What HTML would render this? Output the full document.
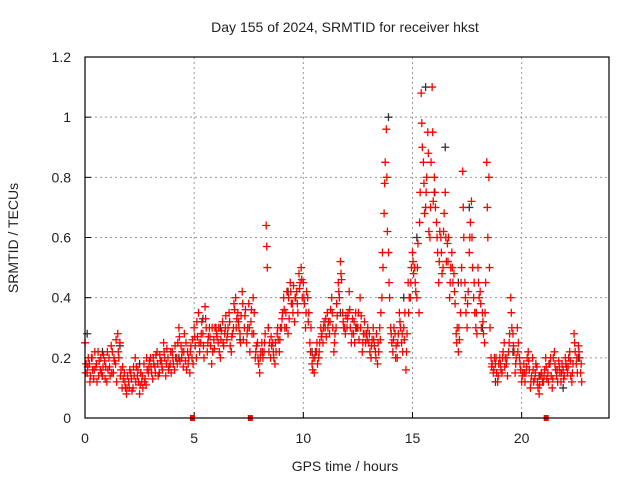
<!DOCTYPE html>
<html><head><meta charset="utf-8"><style>
body{margin:0;background:#fff;}
svg text{font-family:"Liberation Sans",sans-serif;font-size:14px;fill:#222;}
</style></head><body>
<svg id="chart" width="640" height="480" xmlns="http://www.w3.org/2000/svg">
<rect width="640" height="480" fill="#fff"/>
<text x="345" y="32" text-anchor="middle">Day 155 of 2024, SRMTID for receiver hkst</text>
<text x="345" y="471" text-anchor="middle">GPS time / hours</text>
<text transform="translate(18,238) rotate(-90)" text-anchor="middle">SRMTID / TECUs</text>
<g id="grid"></g>
<g id="ticks"></g>
<g id="blk"></g>
<g id="red"></g>
<rect x="85" y="57" width="524" height="361" fill="none" stroke="#000" stroke-width="1.2"/>
</svg>
<script>
const xTicks=[0,5,10,15,20];
const yTicks=[0,0.2,0.4,0.6,0.8,1,1.2];
const yTickLabels=["0","0.2","0.4","0.6","0.8","1","1.2"];
const redA=[0.25,0.15,0.18,0.2,0.13,0.17,0.22,0.16,0.14,0.19,
0.12,0.2,0.24,0.15,0.18,0.28,0.25,0.1,0.15,0.08,
0.12,0.15,0.1,0.2,0.14,0.08,0.12,0.18,0.11,0.15,
0.2,0.13,0.17,0.22,0.15,0.19,0.25,0.14,0.2,0.18,
0.22,0.16,0.2,0.3,0.24,0.17,0.19,0.22,0.15,0.2,
0.3,0.2,0.35,0.25,0.28,0.37,0.22,0.3,0.18,0.26,
0.3,0.25,0.2,0.32,0.28,0.26,0.35,0.22,0.3,0.4,
0.35,0.28,0.42,0.3,0.25,0.38,0.32,0.4,0.2,0.25,
0.15,0.25,0.22,0.64,0.3,0.2,0.25,0.18,0.28,0.22,
0.3,0.4,0.35,0.28,0.45,0.38,0.32,0.42,0.48,0.5,
0.45,0.3,0.4,0.25,0.18,0.15,0.22,0.2,0.3,0.25,
0.3,0.35,0.28,0.4,0.22,0.3,0.45,0.52,0.35,0.3,
0.3,0.42,0.25,0.28,0.35,0.3,0.4,0.22,0.32,0.28,
0.25,0.2,0.3,0.22,0.18,0.3,0.4,0.68,0.96,0.55,
0.3,0.22,0.28,0.2,0.35,0.25,0.3,0.16,0.45,0.4,
0.55,0.5,0.4,0.35,1.08,0.85,0.7,0.95,0.6,1.1,
0.8,0.65,0.45,0.6,0.5,0.75,0.58,0.4,0.55,0.48,
0.28,0.22,0.35,0.82,0.45,0.3,0.55,0.72,0.4,0.3,
0.5,0.42,0.35,0.25,0.85,0.8,0.2,0.15,0.18,0.12,
0.2,0.15,0.25,0.18,0.22,0.4,0.28,0.15,0.3,0.2,
0.12,0.18,0.15,0.22,0.1,0.2,0.13,0.17,0.08,0.15,
0.12,0.2,0.15,0.18,0.1,0.22,0.14,0.19,0.12,0.16,
0.2,0.15,0.22,0.12,0.28,0.18,0.24,0.15];
const redB=[0.18,0.2,0.14,0.16,0.22,0.12,0.19,0.15,0.21,0.17,
0.16,0.14,0.22,0.19,0.12,0.2,0.16,0.13,0.1,0.14,
0.16,0.09,0.14,0.17,0.12,0.15,0.1,0.13,0.16,0.19,
0.15,0.18,0.21,0.14,0.19,0.16,0.2,0.23,0.17,0.15,
0.18,0.2,0.25,0.19,0.22,0.28,0.16,0.2,0.24,0.18,
0.24,0.27,0.22,0.32,0.2,0.3,0.27,0.24,0.22,0.3,
0.27,0.22,0.29,0.24,0.34,0.3,0.24,0.28,0.36,0.33,
0.3,0.34,0.26,0.36,0.3,0.22,0.28,0.35,0.24,0.18,
0.22,0.2,0.28,0.5,0.25,0.24,0.2,0.22,0.26,0.3,
0.35,0.3,0.42,0.33,0.38,0.44,0.4,0.35,0.45,0.4,
0.38,0.42,0.35,0.3,0.2,0.22,0.18,0.25,0.28,0.32,
0.27,0.32,0.36,0.3,0.28,0.34,0.4,0.46,0.3,0.34,
0.35,0.3,0.33,0.25,0.3,0.26,0.34,0.28,0.25,0.3,
0.22,0.26,0.24,0.28,0.22,0.35,0.5,0.85,0.62,0.4,
0.25,0.3,0.24,0.28,0.3,0.22,0.35,0.28,0.4,0.5,
0.48,0.42,0.58,0.75,0.9,0.68,0.8,0.62,0.85,0.72,
0.7,0.55,0.62,0.48,0.68,0.52,0.6,0.5,0.45,0.38,
0.3,0.26,0.5,0.6,0.35,0.42,0.65,0.5,0.35,0.28,
0.4,0.3,0.28,0.45,0.6,0.3,0.18,0.2,0.15,0.18,
0.16,0.22,0.2,0.14,0.28,0.3,0.22,0.2,0.25,0.16,
0.15,0.12,0.2,0.16,0.14,0.12,0.18,0.1,0.14,0.12,
0.16,0.13,0.18,0.14,0.2,0.16,0.12,0.15,0.18,0.14,
0.17,0.2,0.14,0.18,0.22,0.15,0.2,0.12];
const redC=[0.15,0.17,0.12,0.2,0.16,0.18,0.14,0.2,0.17,0.13,
0.22,0.17,0.15,0.2,0.26,0.22,0.14,0.17,0.12,0.1,
0.1,0.13,0.17,0.12,0.16,0.11,0.14,0.12,0.2,0.17,
0.17,0.2,0.15,0.18,0.21,0.17,0.22,0.18,0.16,0.22,
0.2,0.24,0.18,0.27,0.2,0.22,0.25,0.18,0.22,0.26,
0.27,0.32,0.25,0.28,0.24,0.33,0.25,0.27,0.3,0.23,
0.28,0.3,0.26,0.25,0.3,0.28,0.32,0.27,0.38,0.3,
0.32,0.25,0.38,0.34,0.28,0.3,0.36,0.28,0.22,0.2,
0.2,0.22,0.25,0.57,0.22,0.27,0.22,0.25,0.3,0.26,
0.33,0.36,0.3,0.4,0.42,0.35,0.4,0.38,0.43,0.46,
0.4,0.35,0.32,0.22,0.16,0.2,0.25,0.22,0.27,0.3,
0.33,0.3,0.32,0.35,0.25,0.38,0.42,0.48,0.32,0.28,
0.33,0.36,0.28,0.32,0.3,0.35,0.3,0.25,0.28,0.26,
0.28,0.24,0.26,0.2,0.25,0.26,0.55,0.78,0.8,0.45,
0.28,0.26,0.2,0.25,0.32,0.28,0.26,0.22,0.35,0.45,
0.52,0.45,0.5,0.65,0.98,0.78,0.75,0.88,0.7,0.95,
0.75,0.6,0.52,0.55,0.62,0.6,0.52,0.45,0.5,0.42,
0.25,0.3,0.45,0.7,0.4,0.38,0.6,0.6,0.45,0.35,
0.45,0.38,0.32,0.35,0.7,0.5,0.17,0.16,0.2,0.14,
0.18,0.2,0.17,0.2,0.25,0.35,0.24,0.18,0.22,0.18,
0.14,0.15,0.17,0.19,0.12,0.16,0.15,0.12,0.11,0.14,
0.14,0.17,0.12,0.2,0.13,0.18,0.16,0.17,0.15,0.13,
0.18,0.17,0.19,0.15,0.25,0.2,0.22,0.18];
const blackT=[0.1,0.8,1.6,2.5,3.4,4.3,5.4,6.2,7.1,8.4,9.3,10.4,11.7,12.4,13.9,14.6,15.2,15.6,16.0,16.5,17.1,17.6,18.2,18.8,19.6,20.8,21.9,22.6];
const blackV=[0.28,0.22,0.24,0.18,0.15,0.2,0.33,0.3,0.26,0.3,0.42,0.22,0.35,0.3,1.0,0.4,0.6,1.1,0.75,0.9,0.45,0.7,0.3,0.12,0.22,0.14,0.1,0.2];
const squaresT=[4.9,7.55,21.1];

const NS="http://www.w3.org/2000/svg";
const X=t=>85+t*(524/24);
const Y=v=>418-v*(361/1.2);
function mk(tag,attrs,parent){const e=document.createElementNS(NS,tag);for(const k in attrs)e.setAttribute(k,attrs[k]);parent.appendChild(e);return e;}
const grid=document.getElementById('grid'),ticks=document.getElementById('ticks');
xTicks.forEach(t=>{
  if(t>0){const g=mk('line',{x1:X(t),x2:X(t),y1:57,y2:418,stroke:'#999','stroke-dasharray':'2,3'},grid);
  
  }
  const tl=mk('line',{x1:X(t),x2:X(t),y1:418,y2:412,stroke:'#000'},ticks);
  
  
  const tx=mk('text',{x:X(t),y:443,'text-anchor':'middle'},ticks);tx.textContent=t;
  
  
});
yTicks.forEach((v,i)=>{
  if(v>0&&v<1.2){const g=mk('line',{x1:85,x2:609,y1:Y(v),y2:Y(v),stroke:'#999','stroke-dasharray':'2,3'},grid);
  
  }
  const tl=mk('line',{x1:85,x2:91,y1:Y(v),y2:Y(v),stroke:'#000'},ticks);
  
  
  const tx=mk('text',{x:71,y:Y(v)+5,'text-anchor':'end'},ticks);tx.textContent=yTickLabels[i];
  
  
});
function plus(x,y,col,parent,name){
  const p=mk('path',{d:`M${x-4},${y}h8M${x},${y-4}v8`,stroke:col,'stroke-width':1.3,fill:'none'},parent);
  
  
}
const blk=document.getElementById('blk'),red=document.getElementById('red');
blackT.forEach((t,i)=>plus(X(t),Y(blackV[i]),'#333',blk,'black-point'));
redA.forEach((v,i)=>plus(X(i*0.1),Y(v),'#f00',red,'red-point'));
redB.forEach((v,i)=>plus(X(i*0.1+0.05),Y(v),'#f00',red,'red-point'));
redC.forEach((v,i)=>plus(X(i*0.1+0.025),Y(v),'#f00',red,'red-point'));
squaresT.forEach(t=>{const s=mk('rect',{x:X(t)-2,y:415,width:5,height:6,fill:'#f00'},red);
  
  });
</script>
</body></html>
